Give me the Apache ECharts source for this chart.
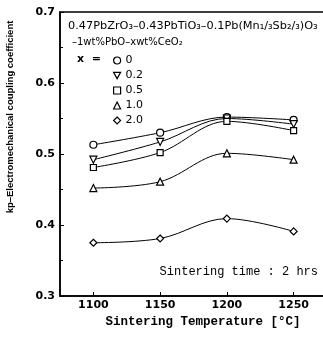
<!DOCTYPE html>
<html>
<head>
<meta charset="utf-8">
<script src="https://cdn.jsdelivr.net/npm/echarts@6/dist/echarts.min.js"></script>
<style>
  html, body { margin: 0; padding: 0; background: #fff; }
  #chart { width: 323px; height: 343px; }
</style>
</head>
<body>
<div id="chart"></div>
<script>
// sintering temperature (°C)
const temps = [1100, 1150, 1200, 1250]
const xTicks = [1100, 1150, 1200, 1250]

// kp values per CeO2 content
const ce00 = [0.513, 0.530, 0.552, 0.548]
const ce02 = [0.492, 0.517, 0.550, 0.542]
const ce05 = [0.481, 0.502, 0.546, 0.533]
const ce10 = [0.452, 0.461, 0.501, 0.492]
const ce20 = [0.375, 0.381, 0.409, 0.391]

const seriesNames = ['0', '0.2', '0.5', '1.0', '2.0']
const seriesData = [ce00, ce02, ce05, ce10, ce20]

const downTri = 'path://M0,0 L10,0 L5,9 Z'
const symbols = ['circle', downTri, 'rect', 'triangle', 'diamond']
const sizes = [7, 7, 6, 7, 7]

const mono = '"Liberation Mono", "DejaVu Sans Mono", monospace'
const sans = '"DejaVu Sans", sans-serif'
const narrow = '"Liberation Sans", Arial, sans-serif'

const chart = echarts.init(document.getElementById('chart'))

const series = seriesNames.map((name, i) => ({
  name: name,
  type: 'line',
  smooth: 0.35,
  data: temps.map((t, k) => [t, seriesData[i][k]]),
  symbol: symbols[i],
  symbolSize: sizes[i],
  showAllSymbol: true,
  lineStyle: { color: '#000', width: 1 },
  itemStyle: { color: '#fff', borderColor: '#000', borderWidth: 1.2 },
  emphasis: { disabled: true },
  z: 3
}))

const option = {
  animation: false,
  backgroundColor: '#fff',
  grid: {
    left: 60,
    top: 12,
    width: 267,
    height: 284,
    outerBoundsMode: 'none',
    show: true,
    borderColor: '#000',
    borderWidth: 1.5,
    backgroundColor: 'transparent'
  },
  legend: {
    orient: 'vertical',
    left: 113,
    top: 54,
    padding: 0,
    itemWidth: 7,
    itemHeight: 7,
    itemGap: 2,
    data: seriesNames.map((n, i) => ({
      name: n,
      icon: symbols[i],
      itemStyle: { color: '#fff', borderColor: '#000', borderWidth: 1.2 }
    })),
    textStyle: { fontFamily: sans, fontSize: 11, lineHeight: 13, color: '#000' },
    selectedMode: false
  },
  xAxis: {
    type: 'value',
    min: 1075,
    max: 1275,
    axisLine: { show: true, lineStyle: { color: '#000', width: 1.5 } },
    axisTick: {
      show: true,
      inside: true,
      length: 4,
      customValues: xTicks,
      lineStyle: { color: '#000' }
    },
    axisLabel: {
      customValues: xTicks,
      margin: 4,
      color: '#000',
      fontFamily: sans,
      fontWeight: 'bold',
      fontSize: 11,
      formatter: v => String(v)
    },
    splitLine: { show: false }
  },
  yAxis: {
    type: 'value',
    min: 0.3,
    max: 0.7,
    interval: 0.1,
    axisLine: { show: true, lineStyle: { color: '#000', width: 1.5 } },
    axisTick: { show: true, inside: true, length: 4, lineStyle: { color: '#000' } },
    minorTick: { show: true, splitNumber: 2, length: 3, lineStyle: { color: '#000' } },
    axisLabel: {
      margin: 5,
      color: '#000',
      fontFamily: sans,
      fontWeight: 'bold',
      fontSize: 11,
      formatter: v => v.toFixed(1)
    },
    splitLine: { show: false }
  },
  graphic: [
    {
      type: 'text',
      left: 68,
      top: 21,
      style: {
        text: '0.47PbZrO₃–0.43PbTiO₃–0.1Pb(Mn₁/₃Sb₂/₃)O₃',
        font: '11.3px ' + sans,
        fill: '#000'
      }
    },
    {
      type: 'text',
      left: 72,
      top: 37,
      style: {
        text: '–1wt%PbO–xwt%CeO₂',
        font: '10px ' + sans,
        fill: '#000'
      }
    },
    {
      type: 'text',
      left: 77,
      top: 54,
      style: { text: 'x  =', font: 'bold 11px ' + sans, fill: '#000' }
    },
    {
      type: 'text',
      x: 318,
      y: 272,
      style: {
        text: 'Sintering time : 2 hrs',
        font: '12px ' + mono,
        fill: '#000',
        align: 'right',
        verticalAlign: 'middle'
      }
    },
    {
      type: 'text',
      x: 203,
      y: 322,
      style: {
        text: 'Sintering Temperature [°C]',
        font: 'bold 12.5px ' + mono,
        fill: '#000',
        align: 'center',
        verticalAlign: 'middle'
      }
    },
    {
      type: 'text',
      x: 10,
      y: 117,
      rotation: Math.PI / 2,
      style: {
        text: 'kp–Electromechanical coupling coefficient',
        font: 'bold 9.5px ' + narrow,
        fill: '#000',
        align: 'center',
        verticalAlign: 'middle'
      }
    }
  ],
  series: series
}

chart.setOption(option)
</script>
</body>
</html>
